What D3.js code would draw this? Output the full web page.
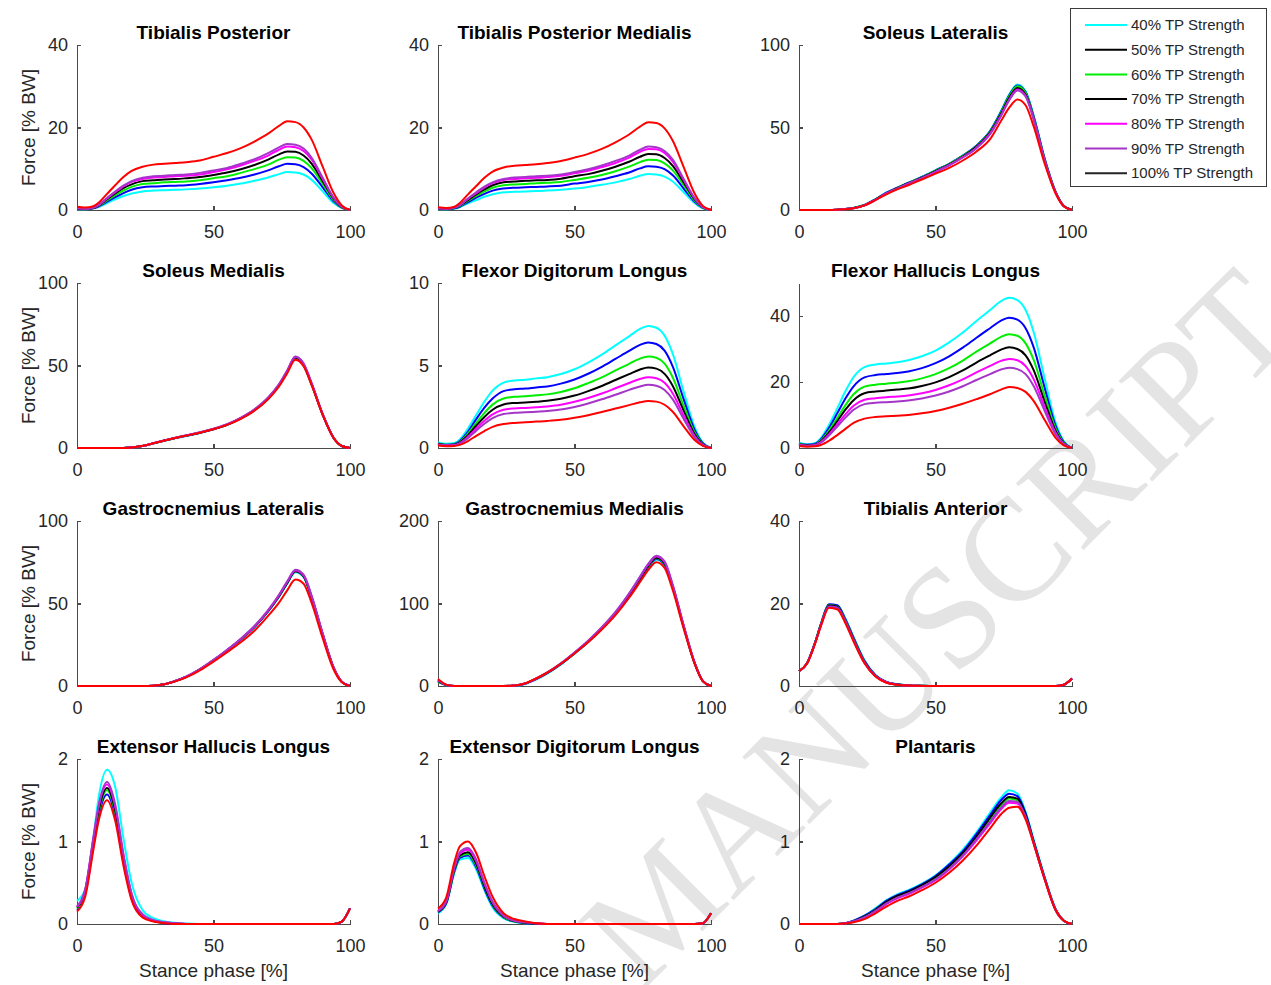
<!DOCTYPE html>
<meta charset="utf-8">
<style>
body { margin: 0; background: #fff; }
svg { font-family: Arial, "Liberation Sans", sans-serif; }
.axis path, .axis line { stroke: #4a4a4a; stroke-width: 1.3; fill: none; shape-rendering: crispEdges; }
.axis text { font-size: 18px; fill: #262626; }
.title { font-size: 19px; font-weight: bold; fill: #000; }
.label { font-size: 19px; fill: #262626; }
.legend text { font-size: 15px; fill: #262626; }
</style>
<body>
<svg width="1271" height="985"></svg>
<script src="https://d3js.org/d3.v7.min.js"></script>
<script>

// stance phase sample points [%]
var stance = [0,3,6,8,11,14,17,20,24,28,32,36,40,45,50,55,60,65,70,74,77,80,83,86,90,94,97,100];

var strengths = ["40% TP Strength","50% TP Strength","60% TP Strength","70% TP Strength","80% TP Strength","90% TP Strength","100% TP Strength"];
// colours of the curves (40% ... 100%)
var lineColors = ["#00ffff","#0000ff","#00ee00","#000000","#ff00ff","#a535c8","#ff0000"];
// colours shown in the legend box
var legendColors = ["#00ffff","#000000","#00ee00","#000000","#ff00ff","#a535c8","#222222"];

var muscles = ["Tibialis Posterior","Tibialis Posterior Medialis","Soleus Lateralis",
  "Soleus Medialis","Flexor Digitorum Longus","Flexor Hallucis Longus",
  "Gastrocnemius Lateralis","Gastrocnemius Medialis","Tibialis Anterior",
  "Extensor Hallucis Longus","Extensor Digitorum Longus","Plantaris"];
var yMax = [40,40,100, 100,10,50, 100,200,40, 2,2,2];
var yTicks = [[0,20,40],[0,20,40],[0,50,100],[0,50,100],[0,5,10],[0,20,40],
  [0,50,100],[0,100,200],[0,20,40],[0,1,2],[0,1,2],[0,1,2]];

// force [% BW], one row per strength: 40,50,60,70,80,90,100 %
var tibPost = [
  [0.2,0.2,0.4,0.7,1.7,2.6,3.4,4.0,4.5,4.7,4.8,4.9,5.0,5.2,5.5,5.9,6.4,7.1,7.9,8.7,9.2,9.1,8.6,7.3,4.5,1.7,0.5,0],
  [0.3,0.2,0.4,0.9,2.0,3.1,4.1,4.9,5.5,5.7,5.8,5.9,6.0,6.3,6.7,7.2,7.8,8.6,9.6,10.6,11.2,11.1,10.4,8.8,5.5,2.1,0.6,0],
  [0.3,0.2,0.5,1.0,2.3,3.6,4.7,5.6,6.3,6.5,6.7,6.8,6.9,7.2,7.7,8.2,9.0,9.9,11.0,12.2,12.8,12.7,11.9,10.1,6.3,2.4,0.6,0],
  [0.3,0.3,0.5,1.1,2.6,4.0,5.3,6.2,7.0,7.2,7.4,7.5,7.7,8.0,8.5,9.1,9.9,10.9,12.2,13.5,14.2,14.1,13.2,11.2,7.0,2.7,0.7,0],
  [0.4,0.3,0.6,1.2,2.8,4.3,5.7,6.8,7.5,7.9,8.0,8.2,8.3,8.6,9.2,9.9,10.8,11.9,13.2,14.6,15.4,15.2,14.3,12.2,7.5,2.9,0.8,0],
  [0.4,0.3,0.6,1.3,2.9,4.5,5.9,7.0,7.8,8.2,8.3,8.5,8.6,9.0,9.6,10.2,11.2,12.3,13.8,15.2,16.0,15.8,14.9,12.6,7.8,3.0,0.8,0],
  [0.8,0.6,0.9,1.8,3.9,6.0,8.0,9.5,10.5,11.0,11.2,11.4,11.6,12.0,12.9,13.8,15.0,16.6,18.5,20.4,21.5,21.3,20.0,17.0,10.5,4.1,1.1,0]
];
var tibPostMed = [
  [0.2,0.2,0.3,0.7,1.6,2.4,3.2,3.8,4.3,4.4,4.5,4.6,4.7,4.9,5.2,5.6,6.1,6.7,7.5,8.3,8.7,8.6,8.1,6.9,4.3,1.7,0.4,0],
  [0.3,0.2,0.4,0.8,1.9,3.0,3.9,4.7,5.2,5.4,5.5,5.6,5.7,5.9,6.4,6.8,7.4,8.2,9.1,10.1,10.6,10.5,9.9,8.4,5.2,2.0,0.5,0],
  [0.3,0.2,0.5,1.0,2.2,3.4,4.5,5.4,6.0,6.2,6.3,6.5,6.6,6.8,7.3,7.8,8.5,9.4,10.5,11.6,12.2,12.1,11.3,9.6,6.0,2.3,0.6,0],
  [0.3,0.3,0.5,1.1,2.4,3.8,5.0,6.0,6.7,6.9,7.1,7.2,7.3,7.6,8.2,8.7,9.5,10.5,11.7,12.9,13.6,13.5,12.6,10.7,6.7,2.6,0.7,0],
  [0.4,0.3,0.6,1.2,2.7,4.1,5.5,6.5,7.3,7.5,7.7,7.8,8.0,8.3,8.9,9.5,10.4,11.4,12.7,14.1,14.8,14.7,13.8,11.7,7.3,2.8,0.7,0],
  [0.4,0.3,0.6,1.2,2.8,4.3,5.7,6.7,7.5,7.9,8.0,8.2,8.3,8.6,9.2,9.9,10.8,11.9,13.2,14.6,15.4,15.2,14.3,12.2,7.5,2.9,0.8,0],
  [0.7,0.5,0.8,1.7,3.8,5.8,7.8,9.3,10.3,10.7,10.9,11.1,11.4,11.9,12.7,13.6,14.8,16.4,18.3,20.2,21.3,21.1,19.8,16.8,10.4,4.0,1.0,0]
];
var soleusLat = [
  [0,0,0,0,0,0.2,0.6,1.2,3.0,6.5,10.5,13.5,16.5,20,24,28,33,39,48,60,70,76,72,57,31,11,2.5,0],
  [0,0,0,0,0,0.2,0.6,1.2,3.0,6.5,10.5,13.5,16.4,20,24,28,33,39,47.8,59.5,69.5,75.5,71.5,56.5,31,11,2.5,0],
  [0,0,0,0,0,0.2,0.6,1.2,3.0,6.4,10.3,13.3,16.3,19.8,23.8,27.8,32.8,38.7,47.5,59,69,75,71,56,30.5,10.8,2.4,0],
  [0,0,0,0,0,0.2,0.6,1.2,2.9,6.3,10.2,13.2,16.2,19.6,23.5,27.5,32.4,38.3,47,58.3,68,74,70,55.5,30.2,10.7,2.4,0],
  [0,0,0,0,0,0.2,0.6,1.1,2.9,6.2,10,13,16,19.3,23.2,27.2,32,37.8,46.5,57.5,67,73,69.2,55,30,10.6,2.3,0],
  [0,0,0,0,0,0.2,0.6,1.1,2.8,6.1,9.9,12.9,15.8,19.1,23,27,31.8,37.5,46,57,66.5,72.5,68.8,54.8,29.9,10.5,2.3,0],
  [0,0,0,0,0,0.2,0.5,1.1,2.8,6.0,9.5,12.5,15.0,18.5,22,25.5,30,35.5,43,54,62,67,63.5,50.5,28,10,2.2,0]
];
var soleusMed = [
  [0,0,0,0,0,0,0,0.3,1.2,2.7,4.4,5.9,7.3,9.1,11.3,14,17.8,22.8,29.8,37.8,45.8,54.3,50,38.2,20.2,6.1,1.2,0],
  [0,0,0,0,0,0,0,0.3,1.2,2.8,4.5,6,7.4,9.2,11.4,14.1,17.9,22.9,30,38,46.2,54.8,50.5,38.5,20.3,6.1,1.2,0],
  [0,0,0,0,0,0,0,0.3,1.2,2.8,4.5,6,7.5,9.3,11.5,14.2,18,23,30,38,46,54.5,50.2,38.3,20.2,6.1,1.2,0],
  [0,0,0,0,0,0,0,0.3,1.2,2.8,4.5,6.1,7.5,9.3,11.5,14.2,18.1,23.1,30.2,38.2,46.3,54.8,50.5,38.5,20.3,6.1,1.2,0],
  [0,0,0,0,0,0,0,0.3,1.2,2.9,4.6,6.1,7.6,9.4,11.6,14.3,18.2,23.3,30.4,38.5,46.8,55.3,51,38.8,20.4,6.1,1.2,0],
  [0,0,0,0,0,0,0,0.3,1.2,2.9,4.6,6.2,7.7,9.5,11.7,14.4,18.3,23.4,30.6,38.7,47,55.5,51.2,39,20.5,6.2,1.2,0],
  [0,0,0,0,0,0,0,0.3,1.3,2.9,4.6,6.1,7.5,9.3,11.4,14,17.7,22.6,29.5,37.3,45.3,53.5,49.5,37.8,20,6,1.2,0]
];
var flexDigLong = [
  [0.34,0.26,0.3,0.52,1.18,2.0,2.81,3.48,3.96,4.09,4.14,4.22,4.29,4.48,4.77,5.18,5.66,6.22,6.77,7.22,7.4,7.29,6.81,5.7,3.4,1.26,0.33,0],
  [0.28,0.2,0.24,0.43,1.0,1.75,2.45,3.0,3.45,3.56,3.6,3.67,3.73,3.9,4.15,4.5,4.92,5.4,5.88,6.25,6.4,6.3,5.9,4.93,2.95,1.1,0.29,0],
  [0.26,0.19,0.22,0.38,0.88,1.52,2.13,2.63,3.0,3.1,3.14,3.2,3.25,3.4,3.62,3.93,4.28,4.7,5.1,5.42,5.55,5.47,5.11,4.27,2.55,0.94,0.25,0],
  [0.24,0.17,0.2,0.34,0.78,1.35,1.88,2.32,2.64,2.73,2.76,2.81,2.86,2.98,3.18,3.45,3.76,4.12,4.48,4.76,4.88,4.81,4.49,3.76,2.25,0.83,0.22,0],
  [0.22,0.16,0.18,0.3,0.69,1.18,1.65,2.04,2.32,2.4,2.43,2.47,2.52,2.62,2.8,3.03,3.3,3.62,3.94,4.18,4.29,4.23,3.95,3.3,1.97,0.73,0.19,0],
  [0.2,0.15,0.16,0.27,0.61,1.05,1.47,1.81,2.06,2.13,2.16,2.2,2.24,2.33,2.49,2.7,2.95,3.23,3.52,3.73,3.83,3.77,3.52,2.95,1.76,0.65,0.17,0],
  [0.15,0.11,0.12,0.19,0.42,0.74,1.03,1.28,1.45,1.52,1.56,1.6,1.64,1.71,1.83,1.99,2.18,2.39,2.6,2.77,2.85,2.81,2.62,2.2,1.31,0.48,0.13,0]
];
var flexHalLong = [
  [1.6,1.1,1.5,3.0,7.0,12.0,17.2,21.5,24.5,25.3,25.6,26.0,26.6,27.8,29.5,32.0,35.0,38.5,41.8,44.5,45.5,44.8,41.8,35.0,21.0,7.7,2.0,0],
  [1.4,1.0,1.3,2.6,6.1,10.5,15.0,18.7,21.4,22.1,22.4,22.7,23.2,24.2,25.7,27.8,30.4,33.4,36.3,38.6,39.5,38.9,36.3,30.4,18.2,6.7,1.8,0],
  [1.2,0.9,1.1,2.3,5.3,9.1,13.0,16.3,18.6,19.2,19.5,19.8,20.2,21.1,22.4,24.2,26.5,29.2,31.7,33.7,34.5,34.0,31.7,26.6,15.9,5.9,1.6,0],
  [1.1,0.8,1.0,2.0,4.7,8.1,11.6,14.5,16.6,17.1,17.4,17.7,18.0,18.8,19.9,21.5,23.5,25.9,28.1,29.8,30.5,30.0,28.1,23.5,14.0,5.2,1.4,0],
  [1.0,0.7,0.9,1.8,4.2,7.2,10.2,12.8,14.6,15.1,15.4,15.6,15.9,16.6,17.6,19.0,20.8,22.9,24.9,26.4,27.0,26.6,24.8,20.8,12.4,4.6,1.2,0],
  [0.9,0.6,0.8,1.6,3.8,6.5,9.2,11.6,13.3,13.7,13.9,14.1,14.4,15.0,15.9,17.1,18.7,20.6,22.4,23.8,24.3,23.9,22.4,18.7,11.2,4.1,1.1,0],
  [0.6,0.4,0.5,0.9,2.2,3.9,5.8,7.6,8.9,9.4,9.6,9.8,10.0,10.5,11.2,12.2,13.4,14.8,16.3,17.7,18.5,18.2,17.0,14.2,8.5,3.1,0.8,0]
];
var gastroLat = [
  [0,0,0,0,0,0,0,0,0,0.2,1.0,3.0,5.5,10,15.5,21.5,28,35.5,45,54,62,69,66,53,31,11,2.5,0],
  [0,0,0,0,0,0,0,0,0,0.2,1.0,3.0,5.5,10,15.5,21.6,28.2,35.8,45.3,54.4,62.4,69.5,66.4,53.4,31.2,11,2.5,0],
  [0,0,0,0,0,0,0,0,0,0.2,1.0,3.0,5.5,10,15.5,21.6,28.2,35.8,45.3,54.4,62.4,69.5,66.4,53.4,31.2,11,2.5,0],
  [0,0,0,0,0,0,0,0,0,0.2,1.0,3.0,5.6,10.1,15.6,21.7,28.3,35.9,45.4,54.5,62.5,69.5,66.5,53.5,31.3,11.1,2.5,0],
  [0,0,0,0,0,0,0,0,0,0.2,1.0,3.0,5.6,10.1,15.7,21.8,28.5,36.1,45.7,54.9,63,70,67,54,31.6,11.2,2.5,0],
  [0,0,0,0,0,0,0,0,0,0.2,1.0,3.1,5.7,10.2,15.8,22,28.7,36.4,46,55.3,63.4,70.5,67.5,54.4,31.8,11.3,2.6,0],
  [0,0,0,0,0,0,0,0,0,0.2,1.0,2.8,5.2,9.5,14.8,20.5,26.5,33.5,42.5,50.5,58,64.5,62,50,29,10,2.3,0]
];
var gastroMed = [
  [5,1,0,0,0,0,0,0,0,0.3,2.5,8,15,26,39,53,69,87,108,128,143,153,146,119,71,27,6,0],
  [5.5,1.1,0,0,0,0,0,0,0,0.4,2.8,8.5,15.5,26.5,39.5,53.5,69.5,87.5,109,129,144,154,147,119.5,71.5,27.5,6,0],
  [6,1.2,0,0,0,0,0,0,0,0.5,3,9,16,27,40,54,70,88,110,130,145,155,148,120,72,28,6,0],
  [6.5,1.3,0,0,0,0,0,0,0,0.5,3,9,16,27,40,54,70,88.3,110.4,130.5,145.5,155.5,148.5,120.5,72.3,28,6,0],
  [7,1.4,0,0,0,0,0,0,0,0.5,3,9,16.2,27.3,40.4,54.6,70.7,89,111.5,131.8,147,157,150,121.7,73,28.3,6,0],
  [7.5,1.5,0,0,0,0,0,0,0,0.5,3.1,9.2,16.4,27.5,40.7,55,71.2,89.7,112.2,132.6,148,158,151,122.4,73.4,28.5,6.1,0],
  [8.5,1.7,0,0,0,0,0,0,0,0.6,3.3,9.3,16.2,27,39.5,53,68.5,86,107,126,140.5,150,143,116,69.5,27,5.8,0]
];
var tibAnt = [
  [3.6,5.6,10.8,15,19.7,19.6,16.3,11.8,6.2,2.7,1.0,0.4,0.15,0.05,0,0,0,0,0,0,0,0,0,0,0,0,0.3,1.8],
  [3.6,5.6,10.8,15,19.8,19.6,16.2,11.7,6.1,2.6,1.0,0.4,0.15,0.05,0,0,0,0,0,0,0,0,0,0,0,0,0.3,1.8],
  [3.6,5.6,10.7,14.9,19.6,19.3,15.9,11.4,5.9,2.5,0.9,0.35,0.12,0.04,0,0,0,0,0,0,0,0,0,0,0,0,0.3,1.8],
  [3.6,5.6,10.7,14.8,19.5,19.2,15.8,11.3,5.8,2.5,0.9,0.35,0.12,0.04,0,0,0,0,0,0,0,0,0,0,0,0,0.3,1.8],
  [3.6,5.6,10.6,14.7,19.3,19.0,15.6,11.1,5.7,2.4,0.9,0.33,0.11,0.03,0,0,0,0,0,0,0,0,0,0,0,0,0.3,1.8],
  [3.6,5.5,10.6,14.6,19.2,18.9,15.5,11.0,5.6,2.4,0.85,0.32,0.1,0.03,0,0,0,0,0,0,0,0,0,0,0,0,0.3,1.8],
  [3.6,5.5,10.5,14.5,19.0,18.6,15.2,10.8,5.5,2.3,0.8,0.3,0.1,0.03,0,0,0,0,0,0,0,0,0,0,0,0,0.3,1.8]
];
var extHalLong = [
  [0.28,0.42,1.05,1.55,1.87,1.66,1.04,0.5,0.17,0.07,0.03,0.015,0.005,0,0,0,0,0,0,0,0,0,0,0,0,0,0.03,0.19],
  [0.17,0.36,0.94,1.32,1.57,1.31,0.75,0.31,0.09,0.035,0.01,0,0,0,0,0,0,0,0,0,0,0,0,0,0,0,0.03,0.19],
  [0.19,0.38,0.98,1.36,1.62,1.35,0.78,0.33,0.1,0.04,0.015,0.005,0,0,0,0,0,0,0,0,0,0,0,0,0,0,0.03,0.19],
  [0.2,0.4,1.0,1.39,1.65,1.38,0.8,0.34,0.1,0.04,0.015,0.005,0,0,0,0,0,0,0,0,0,0,0,0,0,0,0.03,0.19],
  [0.21,0.41,1.03,1.43,1.69,1.42,0.83,0.36,0.11,0.04,0.02,0.01,0,0,0,0,0,0,0,0,0,0,0,0,0,0,0.03,0.19],
  [0.22,0.42,1.05,1.45,1.72,1.45,0.85,0.37,0.12,0.05,0.02,0.01,0,0,0,0,0,0,0,0,0,0,0,0,0,0,0.03,0.19],
  [0.15,0.33,0.9,1.26,1.5,1.25,0.71,0.29,0.08,0.03,0.01,0,0,0,0,0,0,0,0,0,0,0,0,0,0,0,0.03,0.19]
];
var extDigLong = [
  [0.13,0.24,0.62,0.78,0.8,0.66,0.41,0.2,0.07,0.025,0.01,0,0,0,0,0,0,0,0,0,0,0,0,0,0,0,0.01,0.13],
  [0.14,0.25,0.64,0.8,0.83,0.69,0.43,0.22,0.08,0.03,0.01,0,0,0,0,0,0,0,0,0,0,0,0,0,0,0,0.01,0.13],
  [0.15,0.26,0.65,0.82,0.85,0.71,0.45,0.23,0.085,0.03,0.015,0.005,0,0,0,0,0,0,0,0,0,0,0,0,0,0,0.01,0.13],
  [0.15,0.26,0.66,0.83,0.87,0.73,0.46,0.24,0.09,0.035,0.015,0.005,0,0,0,0,0,0,0,0,0,0,0,0,0,0,0.01,0.13],
  [0.16,0.27,0.68,0.85,0.9,0.76,0.49,0.26,0.1,0.04,0.02,0.01,0,0,0,0,0,0,0,0,0,0,0,0,0,0,0.01,0.13],
  [0.16,0.28,0.69,0.87,0.92,0.78,0.5,0.27,0.1,0.04,0.02,0.01,0,0,0,0,0,0,0,0,0,0,0,0,0,0,0.01,0.13],
  [0.19,0.32,0.75,0.94,1.0,0.86,0.58,0.33,0.13,0.06,0.03,0.01,0,0,0,0,0,0,0,0,0,0,0,0,0,0,0.01,0.13]
];
var plantaris = [
  [0,0,0,0,0,0,0.01,0.04,0.1,0.19,0.29,0.36,0.41,0.49,0.59,0.73,0.9,1.11,1.35,1.53,1.62,1.58,1.36,1.02,0.57,0.18,0.04,0],
  [0,0,0,0,0,0,0.01,0.04,0.1,0.18,0.28,0.35,0.4,0.48,0.58,0.72,0.88,1.09,1.32,1.5,1.58,1.55,1.34,1.0,0.56,0.18,0.04,0],
  [0,0,0,0,0,0,0.01,0.035,0.09,0.17,0.26,0.33,0.38,0.46,0.56,0.69,0.85,1.05,1.27,1.44,1.52,1.5,1.31,0.98,0.55,0.17,0.04,0],
  [0,0,0,0,0,0,0.01,0.035,0.09,0.17,0.27,0.34,0.39,0.47,0.57,0.7,0.86,1.06,1.29,1.46,1.54,1.52,1.32,0.99,0.55,0.17,0.04,0],
  [0,0,0,0,0,0,0.01,0.03,0.08,0.15,0.24,0.31,0.36,0.44,0.53,0.66,0.82,1.01,1.22,1.39,1.47,1.46,1.29,0.97,0.54,0.17,0.04,0],
  [0,0,0,0,0,0,0.01,0.03,0.08,0.16,0.25,0.32,0.37,0.45,0.54,0.67,0.83,1.03,1.24,1.41,1.49,1.48,1.3,0.98,0.55,0.17,0.04,0],
  [0,0,0,0,0,0,0.005,0.02,0.06,0.13,0.21,0.28,0.33,0.41,0.5,0.62,0.77,0.95,1.16,1.33,1.41,1.42,1.27,0.97,0.54,0.17,0.04,0]
];

var forces = [tibPost, tibPostMed, soleusLat, soleusMed, flexDigLong, flexHalLong,
  gastroLat, gastroMed, tibAnt, extHalLong, extDigLong, plantaris];

var colLeft = [77, 438, 799],
    rowBottom = [210, 448, 686, 924],
    plotW = 273,
    plotH = 165;

var svg = d3.select("svg");

// watermark behind everything
svg.append("text")
    .attr("transform", "translate(938,628) rotate(-45)")
    .attr("text-anchor", "middle")
    .attr("dy", "0.33em")
    .style("font-family", "'Liberation Serif', 'DejaVu Serif', serif")
    .style("font-size", "145px")
    .style("fill", "#e4e4e4")
    .text("MANUSCRIPT");

var x = d3.scaleLinear().domain([0, 100]).range([0, plotW]);

muscles.forEach(function(name, k) {
  var col = k % 3, row = Math.floor(k / 3);
  var g = svg.append("g")
      .attr("transform", "translate(" + colLeft[col] + "," + (rowBottom[row] - plotH) + ")");

  var y = d3.scaleLinear().domain([0, yMax[k]]).range([plotH, 0]);

  g.append("g")
      .attr("class", "x axis")
      .attr("transform", "translate(0," + plotH + ")")
      .call(d3.axisBottom(x).tickValues([0, 50, 100]).tickSizeInner(-4).tickSizeOuter(0).tickPadding(15));

  g.append("g")
      .attr("class", "y axis")
      .call(d3.axisLeft(y).tickValues(yTicks[k]).tickFormat(d3.format("~g"))
        .tickSizeInner(-4).tickSizeOuter(0).tickPadding(9));

  var line = d3.line()
      .x(function(d, i) { return x(stance[i]); })
      .y(function(d) { return y(d); })
      .curve(d3.curveMonotoneX);

  g.selectAll(".curve")
      .data(forces[k])
    .enter().append("path")
      .attr("class", "curve")
      .attr("d", line)
      .style("fill", "none")
      .style("stroke", function(d, i) { return lineColors[i]; })
      .style("stroke-width", 2)
      .style("stroke-linejoin", "round");

  g.append("text")
      .attr("class", "title")
      .attr("x", plotW / 2)
      .attr("y", -6)
      .attr("text-anchor", "middle")
      .text(name);

  if (col == 0) {
    g.append("text")
        .attr("class", "label")
        .attr("transform", "translate(-42," + (plotH / 2) + ") rotate(-90)")
        .attr("text-anchor", "middle")
        .text("Force [% BW]");
  }
  if (row == 3) {
    g.append("text")
        .attr("class", "label")
        .attr("x", plotW / 2)
        .attr("y", plotH + 53)
        .attr("text-anchor", "middle")
        .text("Stance phase [%]");
  }
});

// legend
var legend = svg.append("g").attr("class", "legend");
legend.append("rect")
    .attr("x", 1070.5).attr("y", 8.5)
    .attr("width", 196).attr("height", 178)
    .style("fill", "#fff")
    .style("stroke", "#3a3a3a")
    .style("stroke-width", 1);

strengths.forEach(function(s, i) {
  var ly = 25 + i * 24.7;
  legend.append("line")
      .attr("x1", 1085).attr("x2", 1127)
      .attr("y1", ly).attr("y2", ly)
      .style("stroke", legendColors[i])
      .style("stroke-width", 2);
  legend.append("text")
      .attr("x", 1131).attr("y", ly)
      .attr("dy", "0.35em")
      .text(s);
});

</script>
